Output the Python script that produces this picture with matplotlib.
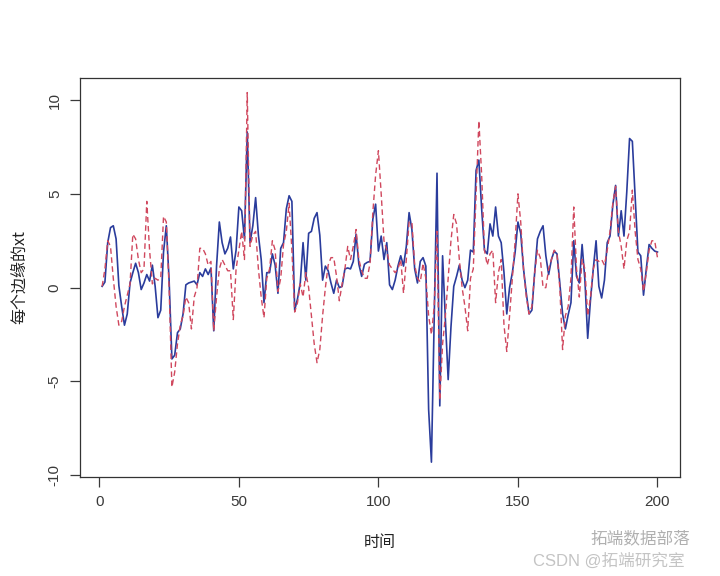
import matplotlib
matplotlib.use("Agg")
import matplotlib.pyplot as plt

plt.rcParams['font.family'] = ['Liberation Sans', 'Noto Sans CJK SC', 'DejaVu Sans']

# time index 1..200
t = list(range(1, 201))

# 每个边缘的xt : observed series (solid blue)
xt_blue = [
    0.07, 0.3, 2.4, 3.2, 3.3, 2.6, 0.1, -1.0, -2.0, -1.4,
    0.25, 0.8, 1.3, 0.8, -0.1, 0.25, 0.7, 0.35, 1.2, 0.07,
    -1.6, -1.2, 1.9, 3.3, 0.4, -3.8, -3.6, -2.4, -2.2, -1.4,
    0.15, 0.25, 0.3, 0.35, 0.15, 0.8, 0.6, 1.0, 0.7, 1.05,
    -2.3, 1.15, 3.5, 2.4, 1.8, 2.1, 2.7, 1.0, 2.0, 4.3,
    4.1, 2.6, 8.3, 2.4, 3.3, 4.8, 2.8, 1.5, -0.8, 0.8,
    0.8, 1.8, 1.2, -0.3, 2.1, 2.4, 4.2, 4.9, 4.6, -1.2,
    -0.6, 0.25, 2.4, 0.4, 2.9, 3.0, 3.7, 4.0, 2.8, 0.4,
    1.15, 0.9, 0.25, -0.3, 0.4, 0.0, 0.07, 1.0, 1.05, 1.0,
    1.4, 2.85, 1.25, 0.6, 1.25, 1.35, 1.4, 3.65, 4.45, 1.95,
    2.75, 1.5, 2.4, 0.15, -0.1, 0.4, 1.15, 1.7, 1.15, 2.2,
    4.0, 3.1, 1.0, 0.25, 1.4, 1.6, 1.15, -6.5, -9.3, -1.6,
    6.1, -6.3, 1.7, -1.7, -4.9, -2.1, 0.07, 0.6, 1.2, 0.4,
    0.0, 0.4, 2.0, 1.9, 6.25, 6.8, 4.2, 2.0, 1.8, 3.4,
    2.75, 4.3, 2.75, 2.4, 0.8, -1.4, 0.0, 0.8, 1.9, 3.5,
    2.9, 1.0, -0.3, -1.4, -1.2, 0.8, 2.6, 3.0, 3.3, 1.7,
    0.7, 1.5, 1.95, 1.8, 0.25, -1.4, -2.2, -1.45, -0.8, 2.5,
    0.6, 0.25, 2.3, 0.4, -2.7, -0.65, 1.0, 2.5, 0.07, -0.55,
    0.4, 2.4, 2.75, 4.4, 5.45, 2.75, 4.1, 2.75, 5.1, 7.95,
    7.8, 4.9, 1.9, 1.7, -0.4, 1.0, 2.3, 2.1, 1.95, 1.9,
]

# second series (dashed red)
xt_red = [
    0.07, 1.0, 2.5, 2.2, 0.5, -1.0, -2.0, -1.8, -1.0, -0.4,
    0.2, 2.85, 2.6, 1.5, 0.8, 1.0, 4.6, 2.0, 0.2, 0.5,
    0.4, 0.5, 3.8, 3.5, 0.0, -5.3, -4.5, -3.0, -2.0, -1.5,
    -0.5, -0.8, -2.2, -0.5, 0.0, 2.1, 2.1, 1.8, 1.2, 1.4,
    -2.3, -0.5, 1.0, 1.5, 1.2, 0.9, 0.9, -1.7, 1.0, 2.0,
    3.0, 1.5, 10.4, 2.2, 2.8, 3.0, 1.0, -0.5, -1.6, 0.5,
    1.0, 2.5, 2.0, -0.2, 0.5, 2.3, 3.0, 4.5, 2.0, -1.3,
    -0.8, 0.2, -0.5, 0.8, 0.0, -1.5, -3.0, -4.0, -3.3, -1.5,
    0.0, 1.2, 1.6, 1.6, 0.6, -0.7, 0.2, 1.0, 2.2, 1.5,
    2.2, 3.1, 1.5, 0.9, 0.5, 0.5, 1.3, 4.0, 6.0, 7.3,
    5.0, 2.5, 2.0, 1.2, 1.0, 0.8, 1.0, 1.5, -0.3, 1.5,
    3.5, 3.5, 1.2, 0.5, 0.3, 1.3, 0.5, -1.5, -2.5, -1.0,
    3.0, -6.0, -3.0, -1.5, 0.5, 2.5, 3.9, 3.4, 1.5, 0.0,
    -1.0, -2.3, 0.5, 1.0, 5.0, 8.9, 6.0, 2.0, 1.2, 1.8,
    2.0, -0.8, 0.8, 1.5, -2.0, -3.4, -1.5, 0.5, 2.5, 5.0,
    3.5, 1.0, -0.5, -1.4, -1.0, 0.8, 2.0, 1.6, 0.0, 0.0,
    1.0, 1.5, 2.0, 1.8, 0.0, -3.3, -1.5, -1.0, 0.5, 4.3,
    1.0, -0.5, 1.5, 1.0, -1.5, -0.5, 1.0, 1.5, 1.4, 1.5,
    1.2, 2.0, 3.0, 4.5, 5.4, 3.0, 2.2, 1.0, 2.5, 3.0,
    5.2, 3.0, 1.5, 1.0, -0.2, 0.8, 2.0, 2.5, 2.5, 1.6,
]

x_ticks = [0, 50, 100, 150, 200]
y_ticks = [-10, -5, 0, 5, 10]

fig = plt.figure(figsize=(7.2, 5.76), dpi=100)
ax = fig.add_axes([0.111, 0.172, 0.833, 0.693])

ax.plot(t, xt_blue, color='#2a3c9c', lw=1.2)
ax.plot(t, xt_red, color='#d0485e', lw=1.0, ls=(0, (4, 2.5)))

# R style 4% padding
lo = min(min(xt_blue), min(xt_red))
hi = max(max(xt_blue), max(xt_red))
pad = (hi - lo) * 0.04
ax.set_ylim(lo - pad, hi + pad)
xpad = (t[-1] - t[0]) * 0.04
ax.set_xlim(t[0] - xpad, t[-1] + xpad)

ax.set_xticks(x_ticks)
ax.set_yticks(y_ticks)
ax.set_yticklabels([str(v) for v in y_ticks], rotation=90, va='center')
ax.tick_params(direction='out', length=7, width=0.9, colors='#3a3a3a',
               labelsize=11, pad=6)
for s in ax.spines.values():
    s.set_color('#333333')
    s.set_linewidth(0.9)

ax.set_xlabel('时间', fontsize=11.5, color='#222222', labelpad=18,
              family=['Noto Sans CJK SC', 'DejaVu Sans'])
ax.set_ylabel('每个边缘的xt', fontsize=11.5, color='#222222', labelpad=14,
              family=['Noto Sans CJK SC', 'DejaVu Sans'])

# watermark
fig.text(0.82, 0.064, '拓端数据部落', fontsize=12, color='#b0b0b0',
         family=['Noto Sans CJK SC', 'DejaVu Sans'], ha='left', va='center')
fig.text(0.74, 0.026, 'CSDN @拓端研究室', fontsize=12, color='#c4c4c4',
         family=['Liberation Sans', 'Noto Sans CJK SC'], ha='left', va='center')

fig.savefig('out.png', dpi=100, facecolor='white')
